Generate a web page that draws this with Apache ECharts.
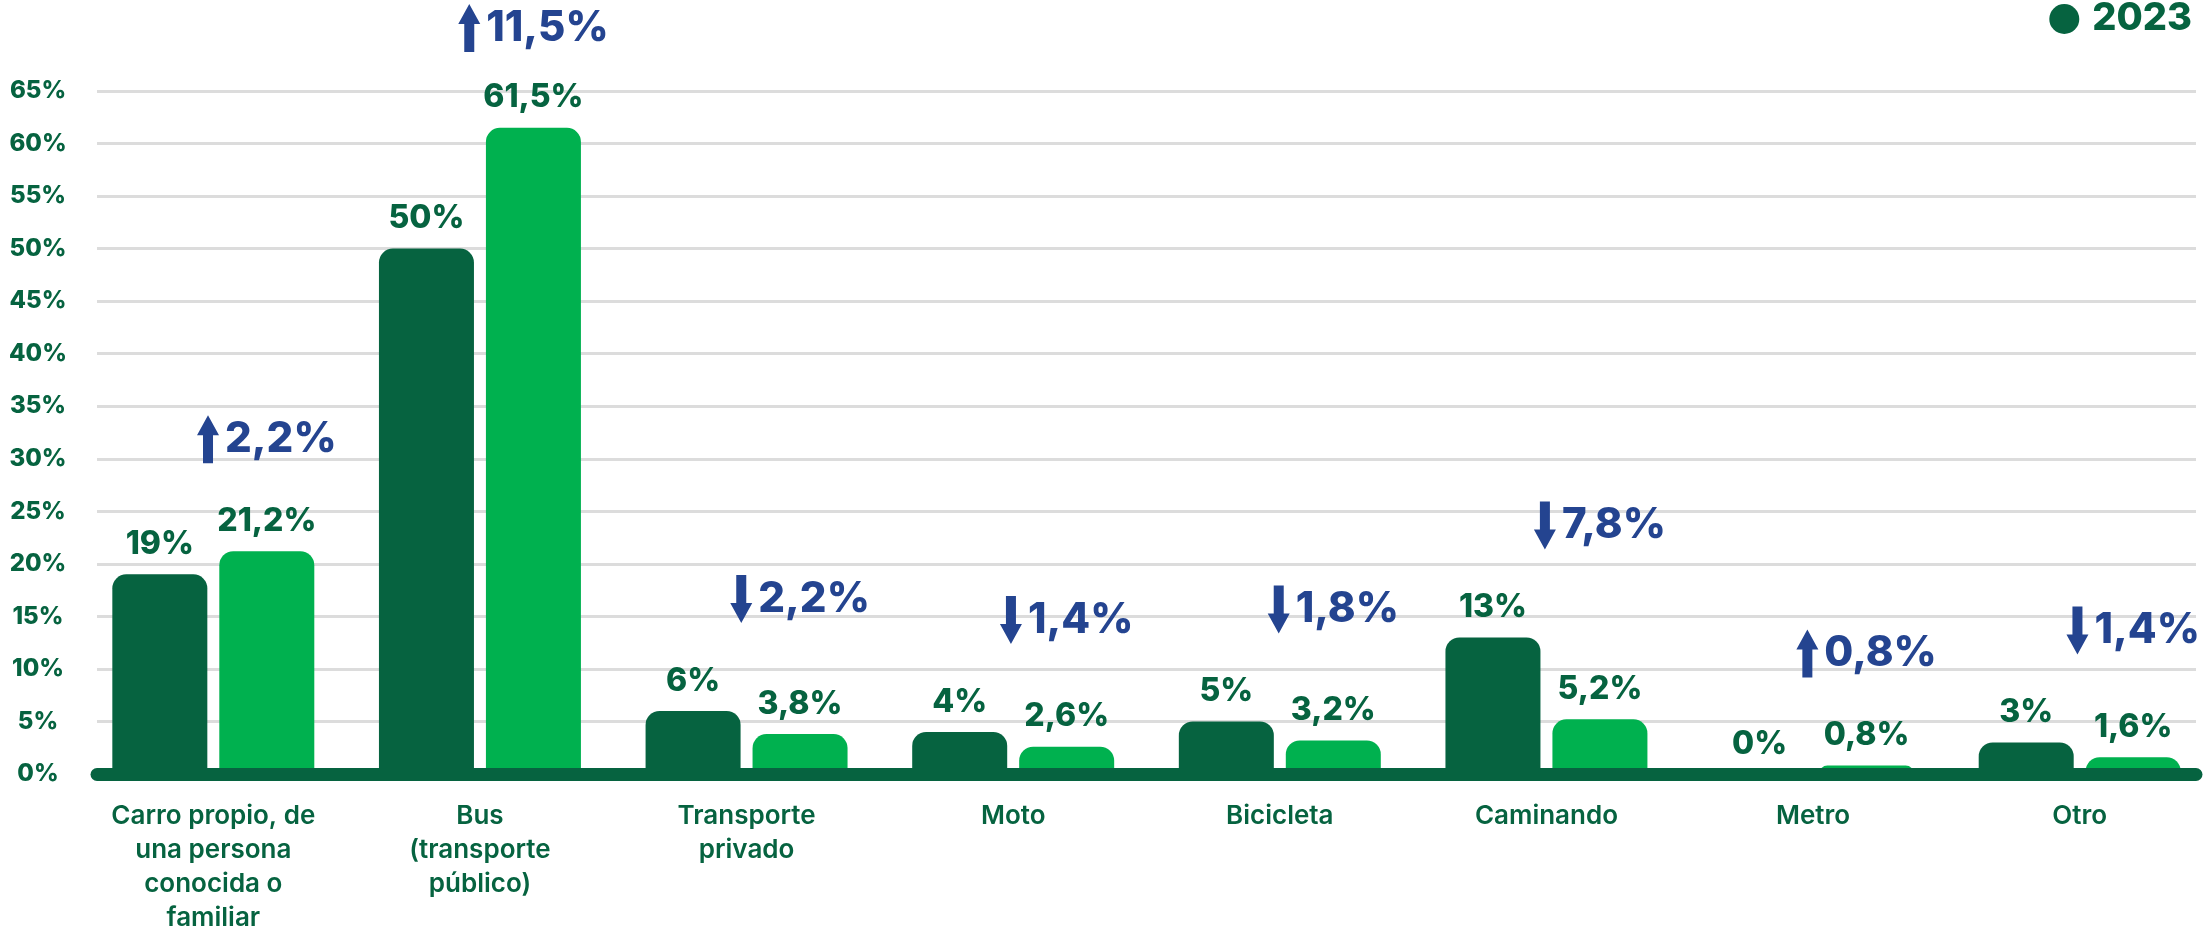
<!DOCTYPE html>
<html>
<head>
<meta charset="utf-8">
<title>Medio de transporte</title>
<script src="https://cdn.jsdelivr.net/npm/echarts@6/dist/echarts.min.js"></script>
<style>
  html, body { margin: 0; padding: 0; background: #fff; }
  #chartBox { width: 2210px; height: 931px; }
</style>
</head>
<body>
<div id="chartBox"></div>
<script>
// datos
const categories = [
  'Carro propio, de\nuna persona\nconocida o\nfamiliar',
  'Bus\n(transporte\npúblico)',
  'Transporte\nprivado',
  'Moto',
  'Bicicleta',
  'Caminando',
  'Metro',
  'Otro'
]
const values2023 = [19, 50, 6, 4, 5, 13, 0, 3]
const valuesNew = [21.2, 61.5, 3.8, 2.6, 3.2, 5.2, 0.8, 1.6]
const changeText = ['2,2%', '11,5%', '2,2%', '1,4%', '1,8%', '7,8%', '0,8%', '1,4%']
const changeDir = ['up', 'up', 'down', 'down', 'down', 'down', 'up', 'down']
const yTicks = [0, 65, 5] // min, max, interval

const darkGreen = '#066340'
const lightGreen = '#00b14f'
const blue = '#244490'
const font = 'Inter'
const barW = 95
const barGapPx = 12

const fmt = v => String(v).replace('.', ',') + '%'

const measure = document.createElement('canvas').getContext('2d')
function textWidth(str, size) {
  measure.font = '800 ' + size + 'px ' + font
  return measure.measureText(str).width
}

function renderChange(params, api) {
  const i = api.value(0)
  const top = api.coord([i, api.value(1)])
  const cx = top[0] + (barW + barGapPx) / 2
  // no dejar que se salga por arriba
  const cy = Math.max(top[1] - 112, 28)
  const size = 42
  const tw = textWidth(changeText[i], size)
  const total = 22 + 6 + tw
  const left = cx - total / 2
  const ax = left + 11
  const s = changeDir[i] === 'up' ? 1 : -1
  const pts = [
    [0, -24 * s], [11, -4 * s], [5, -4 * s], [5, 24 * s],
    [-5, 24 * s], [-5, -4 * s], [-11, -4 * s]
  ].map(p => [ax + p[0], cy + p[1]])
  return {
    type: 'group',
    children: [
      { type: 'polygon', shape: { points: pts }, style: { fill: blue } },
      {
        type: 'text',
        x: left + 28,
        y: cy,
        style: {
          text: changeText[i],
          fill: blue,
          font: '800 ' + size + 'px ' + font,
          align: 'left',
          verticalAlign: 'middle'
        }
      }
    ]
  }
}

const chart = echarts.init(document.getElementById('chartBox'))
const valueLabel = {
  show: true,
  position: 'top',
  distance: 14,
  formatter: p => fmt(p.value),
  color: darkGreen,
  fontFamily: font,
  fontWeight: 800,
  fontSize: 32
}

chart.setOption({
  animation: false,
  legend: {
    data: ['2023'],
    right: 18,
    top: 0,
    padding: 0,
    icon: 'circle',
    itemWidth: 30,
    itemHeight: 30,
    textStyle: {
      color: darkGreen,
      fontFamily: font,
      fontWeight: 800,
      fontSize: 38,
      padding: [0, 0, 0, 8]
    }
  },
  grid: [
    { left: 80, width: 2133, top: 91, bottom: 157, outerBoundsMode: 'none' },
    { left: 97, right: 14, top: 91, bottom: 157, outerBoundsMode: 'none' }
  ],
  xAxis: [
    {
      type: 'category',
      gridIndex: 0,
      data: categories,
      axisLine: { show: false },
      axisTick: { show: false },
      axisLabel: {
        margin: 25,
        color: darkGreen,
        fontFamily: font,
        fontWeight: 600,
        fontSize: 26,
        lineHeight: 34,
        align: 'center'
      }
    },
    {
      type: 'value',
      gridIndex: 1,
      min: 0,
      max: 1,
      offset: 3,
      z: 5,
      axisLine: { show: true, lineStyle: { color: darkGreen, width: 13, cap: 'round' } },
      axisTick: { show: false },
      axisLabel: { show: false },
      splitLine: { show: false }
    }
  ],
  yAxis: [
    { type: 'value', gridIndex: 0, min: yTicks[0], max: yTicks[1], interval: yTicks[2], show: false },
    {
      type: 'value',
      gridIndex: 1,
      min: yTicks[0],
      max: yTicks[1],
      interval: yTicks[2],
      axisLine: { show: false },
      axisTick: { show: false },
      splitLine: { lineStyle: { color: '#dcdcdc', width: 3 } },
      axisLabel: {
        formatter: '{value}%',
        align: 'center',
        margin: 59,
        padding: [0, 0, 8, 0],
        color: darkGreen,
        fontFamily: font,
        fontWeight: 800,
        fontSize: 24
      }
    }
  ],
  series: [
    {
      name: '2023',
      type: 'bar',
      xAxisIndex: 0,
      yAxisIndex: 0,
      data: values2023,
      barWidth: barW,
      barGap: (barGapPx / barW * 100).toFixed(1) + '%',
      itemStyle: { color: darkGreen, borderRadius: [14, 14, 0, 0] },
      label: valueLabel
    },
    {
      name: '2024',
      type: 'bar',
      xAxisIndex: 0,
      yAxisIndex: 0,
      data: valuesNew,
      barWidth: barW,
      itemStyle: { color: lightGreen, borderRadius: [14, 14, 0, 0] },
      label: valueLabel
    },
    {
      name: 'cambio',
      type: 'custom',
      xAxisIndex: 0,
      yAxisIndex: 0,
      z: 6,
      data: values2023.map((v, i) => [i, Math.max(v, valuesNew[i])]),
      renderItem: renderChange
    }
  ]
})
window.addEventListener('resize', () => {
  chart.resize()
})
</script>
</body>
</html>
